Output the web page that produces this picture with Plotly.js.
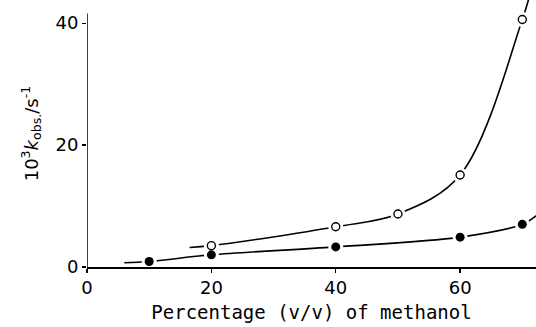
<!DOCTYPE html>
<html><head><meta charset="utf-8">
<script src="https://cdn.plot.ly/plotly-3.0.1.min.js"></script>
<style>html,body{margin:0;padding:0;background:#fff}#chart{width:536px;height:327px}</style>
</head><body><div id="chart"></div>
<script>
// Open circles series
const openX = [20, 40, 50, 60, 70];
const openY = [3.5, 6.6, 8.7, 15.1, 40.6];
// Filled circles series
const filledX = [10, 20, 40, 60, 70];
const filledY = [0.9, 2.0, 3.3, 4.9, 7.0];
// Drawn curve traces (including their end points)
const openCurveX = [16.5, 20, 40, 50, 60, 70, 71.3];
const openCurveY = [3.2, 3.5, 6.6, 8.7, 15.1, 40.6, 45];
const filledCurveX = [6, 10, 20, 40, 60, 70, 72.5];
const filledCurveY = [0.7, 0.9, 2.0, 3.3, 4.9, 7.0, 8.6];
const xTicks = [0, 20, 40, 60];
const yTicks = [0, 20, 40];
const yAxisTop = 41.6;

const font = 'DejaVu Sans, sans-serif';
const traces = [
  {x: openCurveX, y: openCurveY, mode: 'lines', line: {color: '#000', width: 1.6, shape: 'spline', smoothing: 1}, hoverinfo: 'skip'},
  {x: filledCurveX, y: filledCurveY, mode: 'lines', line: {color: '#000', width: 1.6, shape: 'spline', smoothing: 1}, hoverinfo: 'skip'},
  {x: openX, y: openY, mode: 'markers', marker: {symbol: 'circle', size: 15, color: '#fff', line: {width: 0}}},
  {x: filledX, y: filledY, mode: 'markers', marker: {symbol: 'circle', size: 15, color: '#fff', line: {width: 0}}},
  {x: openX, y: openY, mode: 'markers', marker: {symbol: 'circle', size: 8, color: '#fff', line: {color: '#000', width: 1.4}}},
  {x: filledX, y: filledY, mode: 'markers', marker: {symbol: 'circle', size: 9, color: '#000', line: {color: '#000', width: 0}}}
];
const layout = {
  width: 536, height: 327,
  margin: {l: 87, r: 0, t: 0, b: 60},
  showlegend: false,
  paper_bgcolor: '#fff', plot_bgcolor: '#fff',
  font: {family: font, color: '#000', size: 18},
  xaxis: {
    range: [0, 72.2], tickvals: xTicks, ticktext: xTicks.map(String),
    showline: true, linecolor: '#000', linewidth: 1.5, ticks: 'outside', ticklen: 4, tickwidth: 1.3, tickcolor: '#000',
    showgrid: false, zeroline: false, tickfont: {size: 18, family: font},
    title: {text: 'Percentage (v/v) of methanol', font: {size: 19, family: 'DejaVu Sans Mono, monospace'}, standoff: 8}
  },
  yaxis: {
    range: [0, 43.8], tickvals: yTicks, ticktext: yTicks.map(String),
    showline: false, ticks: 'outside', ticklen: 4, tickwidth: 1.3, tickcolor: '#000',
    showgrid: false, zeroline: false, tickfont: {size: 18, family: font},
    title: {text: '10<sup>3</sup><i>k</i><sub>obs.</sub>/s<sup>-1</sup>', font: {size: 18, family: font}, standoff: 12}
  },
  shapes: [
    {type: 'line', xref: 'x', yref: 'y', x0: 0, x1: 0, y0: -0.5, y1: yAxisTop, line: {color: '#000', width: 1.5}}
  ]
};
Plotly.newPlot('chart', traces, layout, {displayModeBar: false, staticPlot: true});
</script></body></html>
